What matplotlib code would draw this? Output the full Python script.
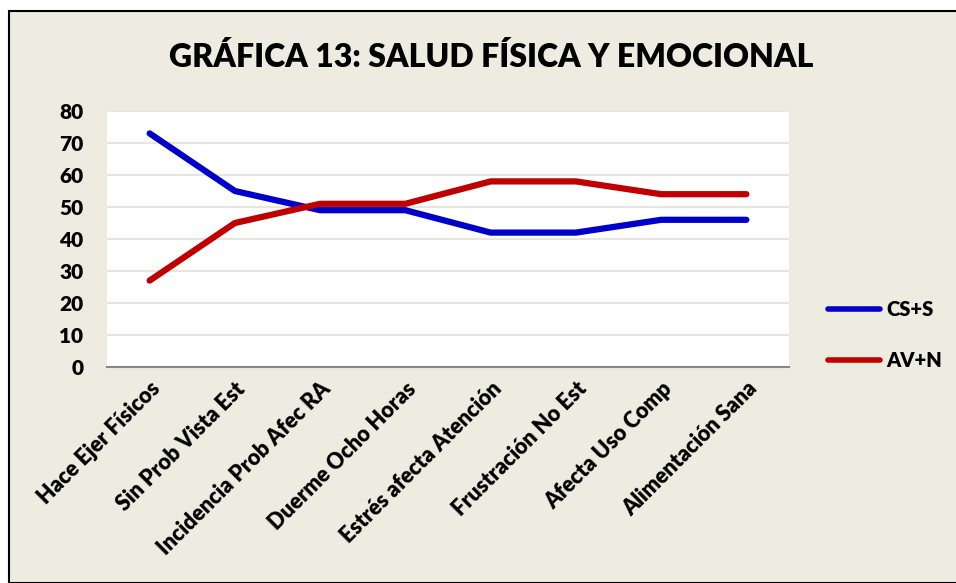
import matplotlib.pyplot as plt
from matplotlib.patches import Rectangle
from matplotlib.lines import Line2D

categories = ["Hace Ejer Físicos", "Sin Prob Vista Est", "Incidencia Prob Afec RA",
              "Duerme Ocho Horas", "Estrés afecta Atención", "Frustración No Est",
              "Afecta Uso Comp", "Alimentación Sana"]
cs_s = [73, 55, 49, 49, 42, 42, 46, 46]
av_n = [27, 45, 51, 51, 58, 58, 54, 54]
y_ticks = [0, 10, 20, 30, 40, 50, 60, 70, 80]

plt.rcParams['font.family'] = ['Lato', 'DejaVu Sans']
plt.rcParams['font.weight'] = 'bold'

W, H = 956, 583
bg = '#EEECE1'
fig = plt.figure(figsize=(W / 100, H / 100), dpi=100, facecolor='white')

# chart frame
fig.patches.append(Rectangle((9 / W, 0), 1 - 9 / W + 0.01, 1 - 11 / H,
                             transform=fig.transFigure, facecolor=bg,
                             edgecolor='black', linewidth=1.5, zorder=-5))

ax = fig.add_axes([107 / W, 1 - 367 / H, (789 - 107) / W, (367 - 111) / H])
ax.set_facecolor('white')

x = list(range(len(categories)))
ax.plot(x, cs_s, color='#0000CC', lw=4.5, solid_capstyle='round', label='CS+S', zorder=3)
ax.plot(x, av_n, color='#C00000', lw=4.5, solid_capstyle='round', label='AV+N', zorder=3)

ax.set_xlim(-0.5, len(categories) - 0.5)
ax.set_ylim(0, 80)
ax.set_yticks(y_ticks)
ax.set_yticklabels([str(v) for v in y_ticks], fontsize=15, fontweight='heavy')
ax.set_xticks(x)
ax.set_xticklabels(categories, rotation=45, ha='right', va='top',
                   rotation_mode='anchor', fontsize=15.5, fontweight='heavy')
ax.tick_params(axis='both', length=0)
ax.tick_params(axis='y', pad=17)
ax.tick_params(axis='x', pad=8)
ax.grid(axis='y', color='#E8E6DC', lw=1.5)
ax.set_axisbelow(True)
for s in ['top', 'right', 'left']:
    ax.spines[s].set_visible(False)
ax.spines['bottom'].set_color('#868686')
ax.spines['bottom'].set_linewidth(1.5)

fig.text(491 / W, 1 - 57 / H, "GRÁFICA 13: SALUD FÍSICA Y EMOCIONAL",
         ha='center', va='center', fontsize=23, fontweight='heavy')

handles = [Line2D([], [], color='#0000CC', lw=4, solid_capstyle='round'),
           Line2D([], [], color='#C00000', lw=4, solid_capstyle='round')]
fig.legend(handles, ['CS+S', 'AV+N'], loc='center left',
           bbox_to_anchor=(810 / W, 1 - 335 / H), frameon=False,
           handlelength=2.6, handletextpad=0.3, labelspacing=1.6,
           prop={'weight': 'heavy', 'size': 14.5})

fig.savefig('out.png', dpi=100, facecolor='white')
